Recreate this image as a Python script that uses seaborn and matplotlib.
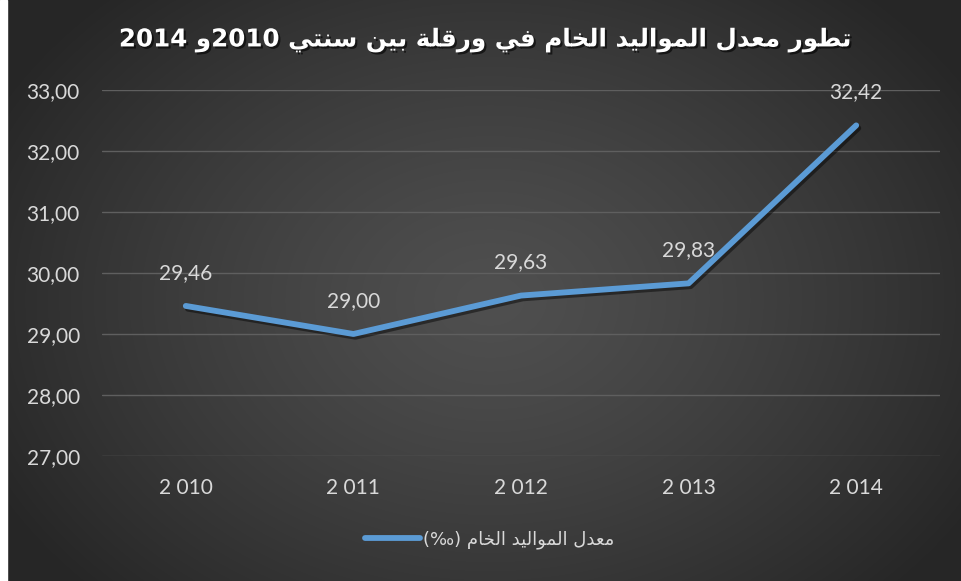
import numpy as np
import pandas as pd
import matplotlib
matplotlib.use("Agg")
import matplotlib.pyplot as plt
import matplotlib.patheffects as pe
from matplotlib.lines import Line2D
import seaborn as sns

# ---------------- data ----------------
years = ["2 010", "2 011", "2 012", "2 013", "2 014"]
birth_rate = [29.46, 29.00, 29.63, 29.83, 32.42]
y_ticks = [27, 28, 29, 30, 31, 32, 33]
title_text = "تطور معدل المواليد الخام في ورقلة بين سنتي 2010و 2014"
legend_text = "معدل المواليد الخام (‰)"

# ---------------- minimal Arabic shaping + bidi ----------------
FORMS = {
    "ا": (0xFE8D, 0xFE8E), "ب": (0xFE8F, 0xFE90, 0xFE91, 0xFE92),
    "ة": (0xFE93, 0xFE94), "ت": (0xFE95, 0xFE96, 0xFE97, 0xFE98),
    "خ": (0xFEA5, 0xFEA6, 0xFEA7, 0xFEA8), "د": (0xFEA9, 0xFEAA),
    "ر": (0xFEAD, 0xFEAE), "س": (0xFEB1, 0xFEB2, 0xFEB3, 0xFEB4),
    "ط": (0xFEC1, 0xFEC2, 0xFEC3, 0xFEC4), "ع": (0xFEC9, 0xFECA, 0xFECB, 0xFECC),
    "ف": (0xFED1, 0xFED2, 0xFED3, 0xFED4), "ق": (0xFED5, 0xFED6, 0xFED7, 0xFED8),
    "ل": (0xFEDD, 0xFEDE, 0xFEDF, 0xFEE0), "م": (0xFEE1, 0xFEE2, 0xFEE3, 0xFEE4),
    "ن": (0xFEE5, 0xFEE6, 0xFEE7, 0xFEE8), "و": (0xFEED, 0xFEEE),
    "ي": (0xFEF1, 0xFEF2, 0xFEF3, 0xFEF4),
}
MIRROR = {"(": ")", ")": "("}


def shape_ar(s):
    out = []
    n = len(s)
    for i, ch in enumerate(s):
        if ch not in FORMS:
            out.append(ch)
            continue
        f = FORMS[ch]
        prev = s[i - 1] if i > 0 else ""
        nxt = s[i + 1] if i + 1 < n else ""
        join_prev = prev in FORMS and len(FORMS[prev]) == 4
        join_next = len(f) == 4 and nxt in FORMS
        if join_prev and join_next:
            out.append(chr(f[3]))
        elif join_prev:
            out.append(chr(f[1]))
        elif join_next:
            out.append(chr(f[2]))
        else:
            out.append(chr(f[0]))
    shaped = "".join(out)
    rev = "".join(MIRROR.get(c, c) for c in reversed(shaped))
    # restore left-to-right digit runs
    res, run = [], []
    for c in rev:
        if c.isdigit():
            run.append(c)
        else:
            if run:
                res.extend(reversed(run))
                run = []
            res.append(c)
    if run:
        res.extend(reversed(run))
    return "".join(res)


# ---------------- style ----------------
sns.set_theme(style="dark")
plt.rcParams["font.family"] = ["Lato", "DejaVu Sans"]

W, H = 962, 581
fig = plt.figure(figsize=(W / 100, H / 100), dpi=100)

# radial gradient background
bg = fig.add_axes([0, 0, 1, 1], zorder=-10)
yy, xx = np.mgrid[0:H, 0:W]
r = np.sqrt(((xx - 490) / 560.0) ** 2 + ((yy - 300) / 420.0) ** 2)
r = np.clip(r, 0, 1)
c_in, c_out = 0.31, 0.15
img = c_in + (c_out - c_in) * r ** 1.3
bg.imshow(np.dstack([img, img, img]), aspect="auto", extent=[0, W, H, 0])
bg.add_patch(plt.Rectangle((0, 0), 7, H, color="white"))
bg.set_xlim(0, W)
bg.set_ylim(H, 0)
bg.axis("off")

ax = fig.add_axes([102 / W, 1 - 456 / H, (940 - 102) / W, (456 - 90) / H])
ax.set_facecolor("none")

df = pd.DataFrame({"year": years, "rate": birth_rate})
sns.lineplot(data=df, x="year", y="rate", ax=ax, color="#5B9BD5", lw=4.2,
             sort=False, clip_on=False,
             path_effects=[pe.SimpleLineShadow(offset=(1.5, -2), alpha=0.45, shadow_color="black"),
                           pe.Normal()])
ax.lines[0].set_solid_capstyle("round")

ax.set_ylim(27, 33)
ax.set_xlim(-0.5, len(years) - 0.5)
ax.set_yticks(y_ticks)
ax.set_yticklabels([f"{v:.2f}".replace(".", ",") for v in y_ticks])
ax.set_xlabel("")
ax.set_ylabel("")
for s in ax.spines.values():
    s.set_visible(False)
ax.grid(axis="y", color="#5f5f5f", lw=1)
ax.grid(axis="x", visible=False)
ax.tick_params(axis="both", length=0, colors="#d9d9d9", labelsize=15)
ax.tick_params(axis="y", pad=16)
ax.tick_params(axis="x", pad=16)

for i, v in enumerate(birth_rate):
    ax.annotate(f"{v:.2f}".replace(".", ","), (i, v), xytext=(0, 24),
                textcoords="offset points", ha="center", va="center",
                color="#d9d9d9", fontsize=15)

fig.text(486 / W, 1 - 40 / H, shape_ar(title_text), ha="center", va="center",
         color="white", fontsize=17.7, fontweight="bold", family=["DejaVu Sans"],
         path_effects=[pe.withSimplePatchShadow(offset=(1.5, -1.5), shadow_rgbFace="black", alpha=0.6)])

handle = Line2D([0], [0], color="#5B9BD5", lw=4.2, solid_capstyle="round")
leg = fig.legend([handle], [shape_ar(legend_text)], loc="center",
                 bbox_to_anchor=(490 / W, 1 - 540 / H), frameon=False,
                 handlelength=3.0, handletextpad=0.2,
                 prop={"family": ["DejaVu Sans"], "size": 13})
for t in leg.get_texts():
    t.set_color("#d9d9d9")

fig.savefig("out.png", dpi=100)
